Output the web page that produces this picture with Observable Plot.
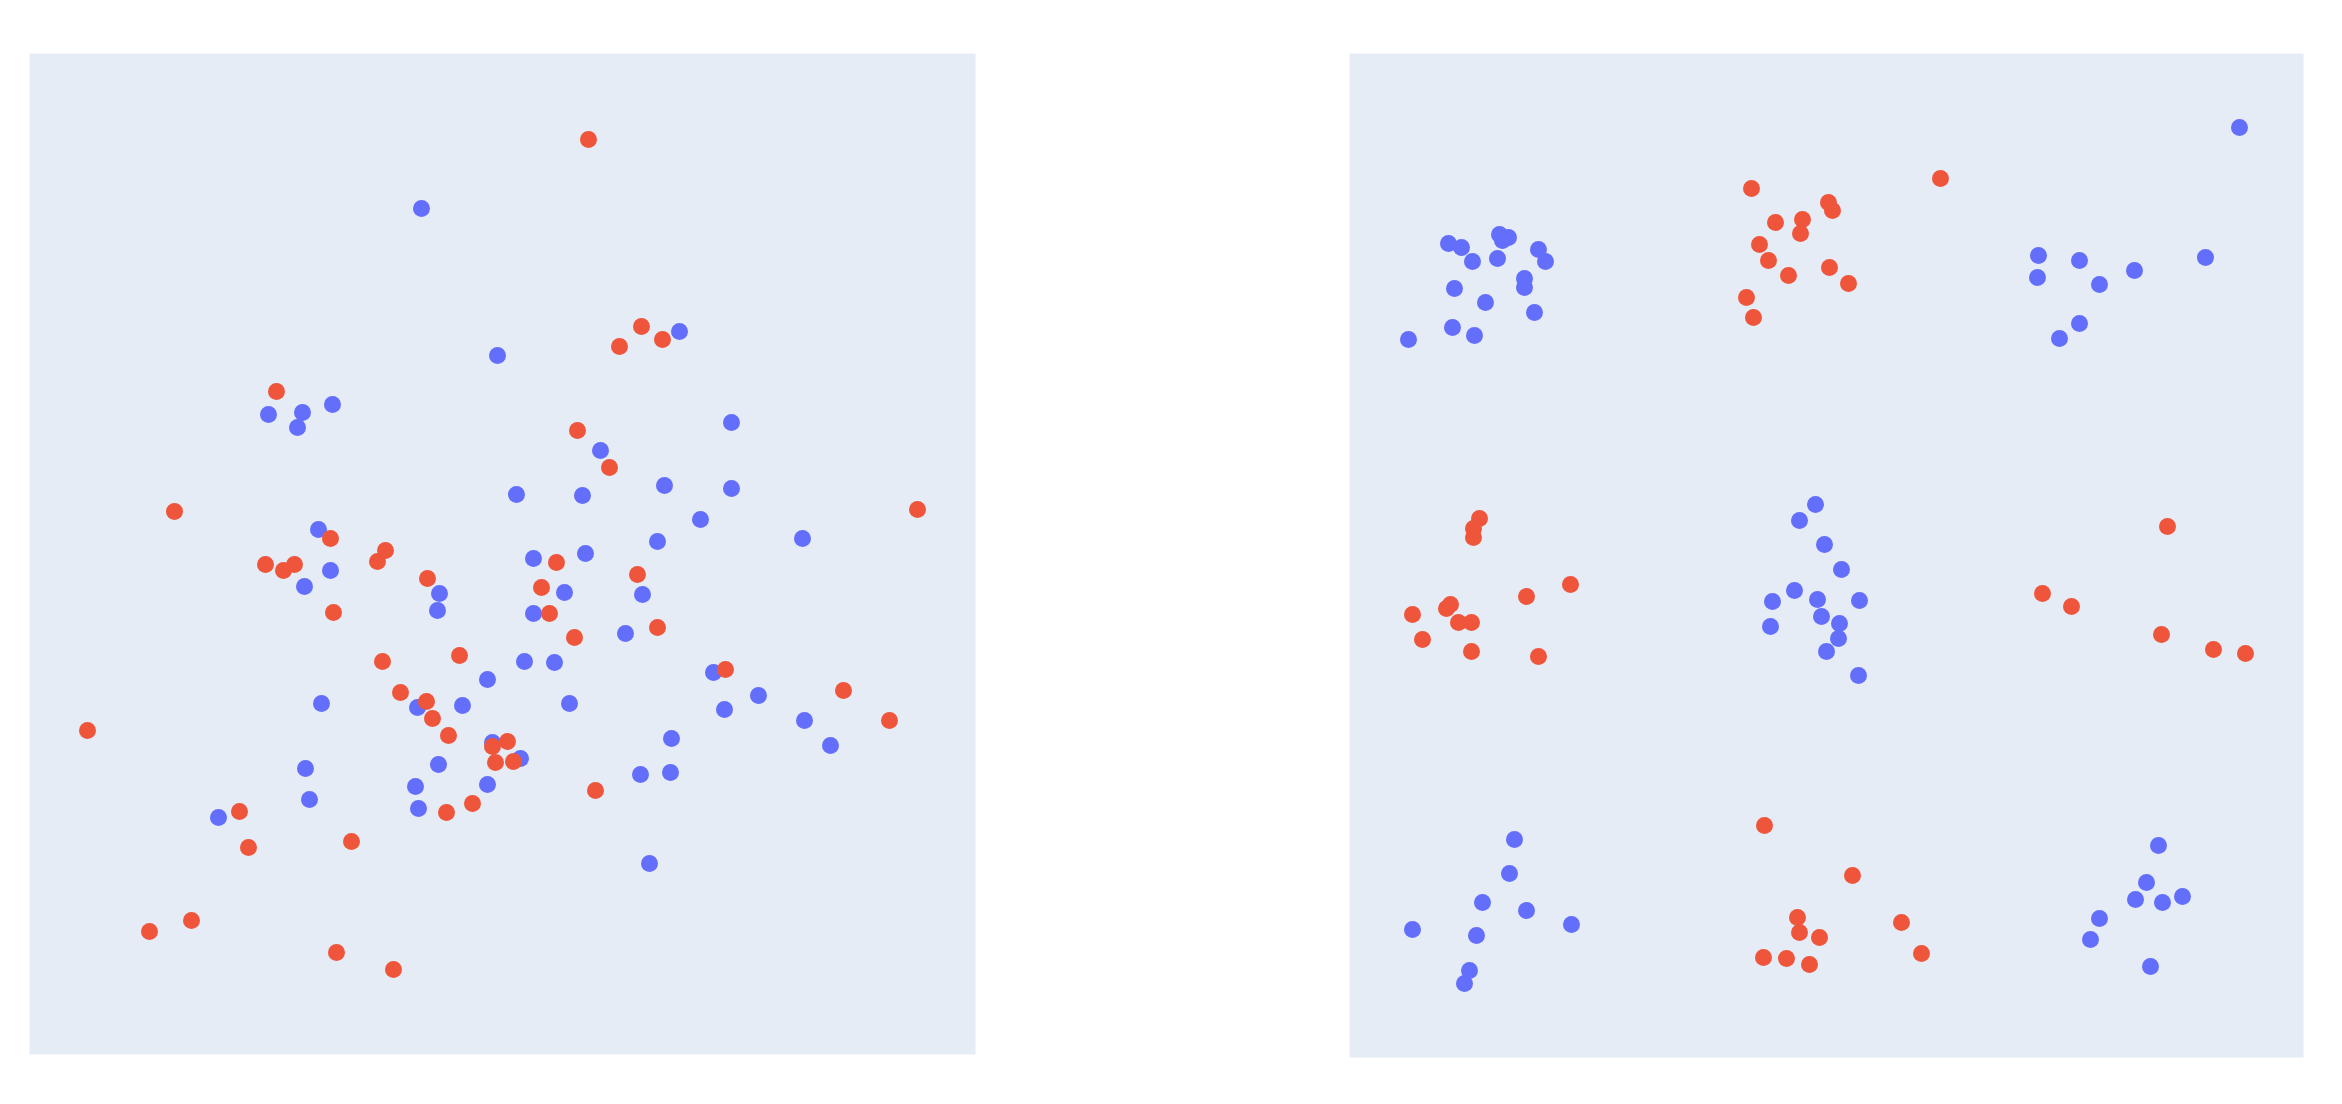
<!DOCTYPE html>
<html>
<head>
<meta charset="utf-8">
<script src="https://cdn.jsdelivr.net/npm/d3@7"></script>
<script src="https://cdn.jsdelivr.net/npm/@observablehq/plot@0.6"></script>
<style>
  html, body { margin: 0; padding: 0; background: #ffffff; }
  #page { position: relative; width: 2342px; height: 1104px; overflow: hidden; background: #ffffff; }
  #left { position: absolute; left: 29px; top: 53px; }
  #right { position: absolute; left: 1349px; top: 53px; }
  svg { display: block; }
</style>
</head>
<body>
<div id="page">
  <div id="left"></div>
  <div id="right"></div>
</div>
<script>
// ---- Left panel: two groups of scattered points ----
const leftBlue = [
  [-0.81, 3.42], [-0.05, 1.95], [-2.34, 1.36], [-2.00, 1.38], [-2.05, 1.23], [-1.70, 1.46],
  [0.14, 0.56], [-1.84, 0.21], [1.77, 2.19], [2.29, 1.28], [0.98, 1.00], [0.80, 0.55],
  [1.62, 0.65], [2.29, 0.62], [1.98, 0.31], [3.00, 0.12], [1.55, 0.09], [0.31, -0.08],
  [0.83, -0.03], [-1.72, -0.20], [-1.98, -0.36], [-0.63, -0.43], [-0.65, -0.60], [1.40, -0.44],
  [0.62, -0.42], [0.31, -0.63], [1.23, -0.83], [0.22, -1.11], [0.52, -1.12], [-0.15, -1.29],
  [-1.81, -1.53], [-0.85, -1.57], [-0.40, -1.55], [0.67, -1.53], [2.11, -1.22], [2.56, -1.45],
  [2.22, -1.59], [3.02, -1.70], [3.28, -1.95], [1.69, -1.88], [-0.10, -1.92], [0.18, -2.08],
  [-1.97, -2.18], [-0.64, -2.14], [-0.87, -2.36], [-0.15, -2.34], [-1.93, -2.49], [-0.84, -2.58],
  [1.38, -2.24], [1.68, -2.22], [-2.84, -2.67], [1.47, -3.13]
];
const leftRed = [
  [0.86, 4.11], [-2.26, 1.59], [-3.28, 0.39], [-1.72, 0.12], [1.39, 2.24], [1.17, 2.04],
  [1.60, 2.11], [0.75, 1.20], [1.07, 0.83], [4.15, 0.41], [-1.17, 0.00], [-1.25, -0.11],
  [-2.37, -0.14], [-2.19, -0.20], [-2.08, -0.14], [-0.75, -0.28], [-1.69, -0.62], [-1.20, -1.11],
  [-0.43, -1.05], [-1.02, -1.42], [-0.76, -1.51], [-0.70, -1.68], [-4.15, -1.80], [-0.54, -1.85],
  [-0.10, -1.96], [0.05, -1.91], [-0.07, -2.12], [0.11, -2.11], [-0.56, -2.62], [-0.30, -2.53],
  [-2.63, -2.61], [-2.54, -2.97], [-1.51, -2.91], [-3.11, -3.70], [-3.53, -3.81], [-1.66, -4.02],
  [-1.09, -4.19], [0.54, -0.12], [1.35, -0.24], [0.39, -0.37], [0.47, -0.63], [0.72, -0.87],
  [1.55, -0.77], [2.23, -1.19], [3.41, -1.40], [3.87, -1.70], [0.93, -2.40]
];

// ---- Right panel: points in a 3x3 grid of clusters ----
const rightBlue = [
  // top-left cluster
  [-3.78, 3.08], [-3.65, 3.04], [-3.54, 2.90], [-3.29, 2.93], [-3.27, 3.17], [-3.18, 3.14],
  [-3.24, 3.11], [-2.88, 3.02], [-2.81, 2.90], [-3.02, 2.73], [-3.02, 2.64], [-3.72, 2.63],
  [-3.41, 2.49], [-2.92, 2.39], [-3.74, 2.24], [-3.52, 2.16], [-4.18, 2.12],
  // top-right cluster
  [4.13, 4.24], [2.12, 2.96], [2.11, 2.74], [2.53, 2.91], [2.73, 2.67], [3.08, 2.81],
  [3.79, 2.94], [2.53, 2.28], [2.33, 2.13],
  // centre cluster
  [-0.11, 0.47], [-0.27, 0.31], [-0.02, 0.07], [0.15, -0.18], [-0.54, -0.50], [-0.32, -0.39],
  [-0.09, -0.48], [-0.05, -0.65], [-0.56, -0.75], [0.33, -0.49], [0.13, -0.72], [0.12, -0.87],
  [0.00, -1.00], [0.32, -1.24],
  // bottom-left cluster
  [-3.12, -2.88], [-3.17, -3.22], [-3.44, -3.51], [-3.00, -3.59], [-2.55, -3.73], [-4.14, -3.78],
  [-3.50, -3.84], [-3.57, -4.19], [-3.62, -4.32],
  // bottom-right cluster
  [3.32, -2.94], [3.20, -3.31], [3.09, -3.48], [3.36, -3.51], [3.56, -3.45], [2.73, -3.67],
  [2.64, -3.88], [3.24, -4.15]
];
const rightRed = [
  // top-middle cluster
  [-0.75, 3.63], [0.02, 3.49], [0.06, 3.41], [-0.51, 3.29], [-0.24, 3.32], [-0.26, 3.18],
  [-0.67, 3.07], [-0.58, 2.91], [-0.38, 2.76], [0.03, 2.84], [0.22, 2.68], [-0.80, 2.54],
  [-0.73, 2.34], [1.14, 3.73],
  // middle-left cluster
  [-3.47, 0.33], [-3.53, 0.23], [-3.53, 0.14], [-2.56, -0.33], [-3.00, -0.45], [-3.76, -0.53],
  [-3.80, -0.57], [-4.14, -0.63], [-3.68, -0.71], [-3.55, -0.71], [-4.04, -0.88], [-3.55, -1.00],
  [-2.88, -1.05],
  // middle-right cluster
  [3.41, 0.25], [2.16, -0.42], [2.45, -0.55], [3.35, -0.83], [3.87, -0.98], [4.19, -1.02],
  // bottom-middle cluster
  [-0.62, -2.74], [-0.29, -3.66], [-0.27, -3.81], [-0.07, -3.86], [-0.63, -4.06], [-0.40, -4.07],
  [-0.17, -4.13], [0.26, -3.24], [0.75, -3.71], [0.95, -4.02]
];

const leftXDomain = [-4.73, 4.73];
const leftYDomain = [-5.04, 4.97];
const rightXDomain = [-4.77, 4.77];
const rightYDomain = [-5.06, 4.98];

const BLUE = "#636efa";
const RED = "#ef553b";
const BG = "#e5ecf6";
const R = 8.5;

const toRows = (arr) => arr.map(([x, y]) => ({x, y}));

function panel(blue, red, xDomain, yDomain, width, height) {
  return Plot.plot({
    width, height,
    margin: 0,
    x: {domain: xDomain, axis: null},
    y: {domain: yDomain, axis: null},
    style: {background: "transparent", overflow: "visible"},
    marks: [
      Plot.frame({fill: BG, stroke: null}),
      Plot.dot(toRows(blue), {x: "x", y: "y", r: R, fill: BLUE}),
      Plot.dot(toRows(red), {x: "x", y: "y", r: R, fill: RED})
    ]
  });
}

document.getElementById("left").appendChild(
  panel(leftBlue, leftRed, leftXDomain, leftYDomain, 946, 1001)
);
document.getElementById("right").appendChild(
  panel(rightBlue, rightRed, rightXDomain, rightYDomain, 954, 1004)
);
</script>
</body>
</html>
